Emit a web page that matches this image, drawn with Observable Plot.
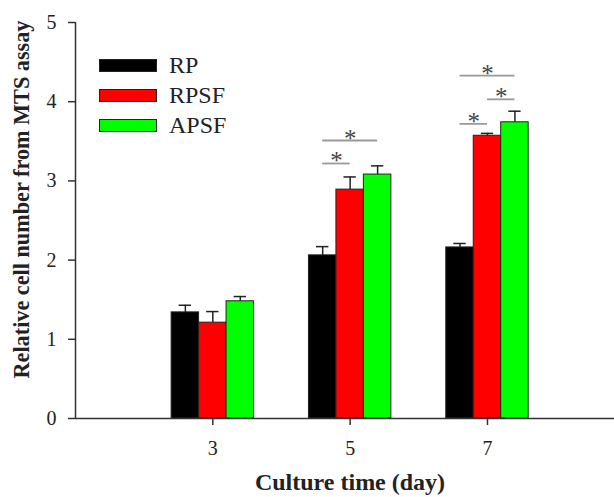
<!DOCTYPE html>
<html><head><meta charset="utf-8">
<script src="https://cdn.jsdelivr.net/npm/d3@7"></script>
<script src="https://cdn.jsdelivr.net/npm/@observablehq/plot@0.6"></script>
<style>
body{margin:0;background:#fff;}
#wrap{position:relative;width:614px;height:497px;font-family:"Liberation Serif","Times New Roman",serif;}
.legend{position:absolute;left:99px;top:50px;}
.item{display:flex;align-items:center;height:30px;}
.sw{width:56px;height:11px;border:1px solid #222;margin-right:12px;}
.item span{font-size:24px;color:#222;line-height:1;}
g[aria-label="y-axis label"] text{font-weight:bold;font-size:23px;}
g[aria-label="x-axis label"] text{font-weight:bold;font-size:24px;}
</style>
</head><body>
<div id="wrap"></div>
<script>
const days = [3, 5, 7];
const series = ["RP", "RPSF", "APSF"];
const colors = ["#000000", "#ff0000", "#00ff00"];
const rpMean = [1.34, 2.06, 2.16];
const rpErr = [0.09, 0.11, 0.05];
const rpsfMean = [1.21, 2.89, 3.57];
const rpsfErr = [0.14, 0.16, 0.03];
const apsfMean = [1.48, 3.08, 3.74];
const apsfErr = [0.06, 0.11, 0.14];
const yTicks = [0, 1, 2, 3, 4, 5];
// significance brackets: day, series from/to (index), bracket height
const sigDay = [5, 5, 7, 7, 7];
const sigFrom = [0, 0, 0, 1, 0];
const sigTo = [2, 1, 2, 2, 1];
const sigY = [3.51, 3.22, 4.33, 4.03, 3.72];

const means = [rpMean, rpsfMean, apsfMean];
const errs = [rpErr, rpsfErr, apsfErr];
const off = 0.4, bw = 0.4, cap = 0.09;
const rows = [];
days.forEach((d, i) => series.forEach((s, j) => rows.push({
  day: d, series: s, x: d + (j - 1) * off, mean: means[j][i], err: errs[j][i]
})));
const sig = sigDay.map((d, k) => ({
  x1: d + (sigFrom[k] - 1) * off, x2: d + (sigTo[k] - 1) * off, y: sigY[k]
}));

const chart = Plot.plot({
  width: 614, height: 497,
  marginLeft: 75, marginRight: 0, marginTop: 22, marginBottom: 79,
  style: {fontFamily: "'Liberation Serif','Times New Roman',serif", fontSize: "20px", color: "#222", background: "white"},
  x: {domain: [1, 8.85]},
  y: {domain: [0, 5]},
  color: {domain: series, range: colors},
  marks: [
    Plot.rectY(rows, {x1: d => d.x - bw / 2, x2: d => d.x + bw / 2, y: "mean", fill: "series", stroke: "#222", strokeWidth: 1}),
    Plot.ruleX(rows, {x: "x", y1: "mean", y2: d => d.mean + d.err, stroke: "#222", strokeWidth: 1.5}),
    Plot.ruleY(rows, {y: d => d.mean + d.err, x1: d => d.x - cap, x2: d => d.x + cap, stroke: "#222", strokeWidth: 1.5}),
    Plot.ruleY(sig, {y: "y", x1: "x1", x2: "x2", stroke: "#999", strokeWidth: 1.8}),
    Plot.text(sig, {x: d => (d.x1 + d.x2) / 2, y: "y", text: () => "*", fontSize: 25, fill: "#444", lineAnchor: "bottom", dy: 6}),
    Plot.axisY({ticks: yTicks, tickSize: 7, tickPadding: 12, tickFormat: d3.format("d"), stroke: "#333", strokeWidth: 1.5,
      label: "Relative cell number from MTS assay", labelAnchor: "center", labelArrow: "none", labelOffset: 63}),
    Plot.axisX({ticks: days, tickSize: 7, tickPadding: 15, tickFormat: d3.format("d"), stroke: "#333", strokeWidth: 1.5,
      label: "Culture time (day)", labelAnchor: "center", labelArrow: "none", labelOffset: 71}),
    Plot.ruleX([1], {stroke: "#333", strokeWidth: 1.5}),
    Plot.ruleY([0], {stroke: "#333", strokeWidth: 1.5})
  ]
});
// label fitting (the original figure is slightly squeezed vertically)
const yl = chart.querySelector('g[aria-label="y-axis label"] text');
if (yl) {
  yl.setAttribute("textLength", 358);
  yl.setAttribute("lengthAdjust", "spacingAndGlyphs");
  yl.setAttribute("x", 21);
}
const xl = chart.querySelector('g[aria-label="x-axis label"] text');
if (xl) xl.setAttribute("x", 5);

const wrap = document.getElementById("wrap");
wrap.appendChild(chart);
const leg = document.createElement("div");
leg.className = "legend";
series.forEach((s, j) => {
  const it = document.createElement("div");
  it.className = "item";
  const sw = document.createElement("div");
  sw.className = "sw";
  sw.style.background = colors[j];
  const t = document.createElement("span");
  t.textContent = s;
  it.appendChild(sw); it.appendChild(t);
  leg.appendChild(it);
});
wrap.appendChild(leg);
</script>
</body></html>
